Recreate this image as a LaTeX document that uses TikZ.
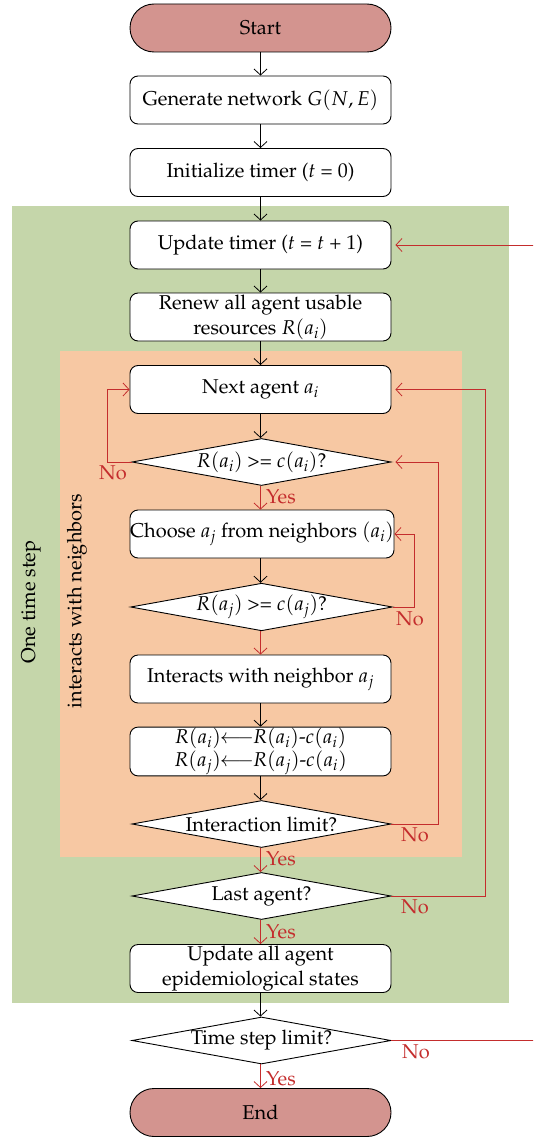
\documentclass[tikz,border=0pt]{standalone}
\usepackage[T1]{fontenc}
\usepackage{mathpazo}
\usetikzlibrary{shapes.geometric,arrows.meta}
\definecolor{termfill}{RGB}{211,148,143}
\definecolor{greenbg}{RGB}{197,214,170}
\definecolor{orangebg}{RGB}{247,200,163}
\definecolor{redline}{RGB}{196,45,45}
\tikzset{
  every node/.style={font=\fontsize{20}{25}\selectfont},
  term/.style={draw, rounded corners=24pt, fill=termfill, minimum width=261pt, minimum height=48pt, line width=0.9pt, inner sep=0pt},
  procbox/.style={draw, rounded corners=8pt, fill=white, minimum width=261pt, minimum height=48pt, line width=0.9pt, align=center, inner sep=1pt},
  decide/.style={draw, diamond, shape aspect=5.5, fill=white, minimum width=259pt, minimum height=47pt, line width=0.9pt, inner sep=0pt},
  blackarrow/.style={-{Straight Barb[length=6pt,width=13pt]}, line width=0.8pt},
  redarrow/.style={-{Straight Barb[length=6pt,width=13pt]}, line width=0.8pt, draw=redline},
  redlabel/.style={text=redline, inner sep=0pt},
  sidelabel/.style={rotate=90, inner sep=0pt}
}
\begin{document}
\begin{tikzpicture}[x=1pt,y=-1pt]
\useasboundingbox (0,0) rectangle (533,1137);
\clip (0,0) rectangle (533,1137);
% backgrounds
\fill[greenbg] (12,206) rectangle (509,1003);
\fill[orangebg] (60,351) rectangle (462,857);
% nodes
\node[term] (start) at (260.5,28) {Start};
\node[procbox] (gen) at (260.5,100) {Generate network $G(N,E)$};
\node[procbox] (init) at (260.5,172.5) {Initialize timer ($t$ = 0)};
\node[procbox] (upd) at (260.5,245) {Update timer ($t$ = $t$ + 1)};
\node[procbox] (renew) at (260.5,317) {Renew all agent usable\\resources $R(a_i)$};
\node[procbox] (next) at (260.5,389.5) {Next agent $a_i$};
\node[decide] (d1) at (261.5,462) {$R(a_i)$ >= $c(a_i)$?};
\node[procbox, minimum width=264pt, inner xsep=0pt] (choose) at (262,534) {Choose $a_j$ from neighbors $(a_i)$};
\node[decide] (d2) at (261.5,607) {$R(a_j)$ >= $c(a_j)$?};
\node[procbox] (inter) at (260.5,679) {Interacts with neighbor $a_j$};
\node[procbox] (rbox) at (260.5,751.5) {$R(a_i)\!\!\longleftarrow\!\! R(a_i)$-$c(a_i)$\\[-2pt]$R(a_j)\!\!\longleftarrow\!\! R(a_j)$-$c(a_i)$};
\node[decide] (d3) at (261.5,824) {Interaction limit?};
\node[decide] (d4) at (261.5,896) {Last agent?};
\node[procbox] (updall) at (260.5,968.5) {Update all agent\\epidemiological states};
\node[decide] (ts) at (261.5,1040.5) {Time step limit?};
\node[term] (end) at (260.5,1112.5) {End};
% side labels
\node[sidelabel] (lab1) at (31,602) {One time step};
\node[sidelabel] (lab2) at (77,601) {interacts with neighbors};
% black arrows
\draw[blackarrow] (start) -- (gen);
\draw[blackarrow] (gen) -- (init);
\draw[blackarrow] (init) -- (upd);
\draw[blackarrow] (upd) -- (renew);
\draw[blackarrow] (renew) -- (next);
\draw[blackarrow] (next.south) -- (next.south |- d1.north);
\draw[blackarrow] (choose.south -| next.south) -- (next.south |- d2.north);
\draw[blackarrow] (inter) -- (rbox);
\draw[blackarrow] (rbox.south) -- (rbox.south |- d3.north);
\draw[blackarrow] (updall.south) -- (updall.south |- ts.north);
% red yes arrows
\draw[redarrow] (d1.south -| next.south) -- (next.south |- choose.north);
\draw[redarrow] (d2.south -| next.south) -- (inter.north);
\draw[redarrow] (d3.south -| next.south) -- (next.south |- d4.north);
\draw[redarrow] (d4.south -| next.south) -- (updall.north);
\draw[redarrow] (ts.south -| next.south) -- (end.north);
% red no loops
\coordinate (c1) at (107,462);
\draw[redarrow] (d1.west) -- (c1) |- (next.west);
\coordinate (c2) at (414,607);
\draw[redarrow] (d2.east) -- (c2) |- (choose.east);
\coordinate (c3) at (438,824);
\draw[redarrow] (d3.east) -- (c3) |- ([xshift=4pt]d1.east);
\coordinate (c4) at (485,896);
\draw[redarrow] (d4.east) -- (c4) |- ([xshift=4pt]next.east);
\coordinate (c5) at (545,1040.5);
\draw[redarrow] (ts.east) -- (c5) |- ([xshift=4pt]upd.east);
% labels
\node[redlabel] (no1) at (113,473) {No};
\node[redlabel, anchor=west] (yes1) at (266,497) {Yes};
\node[redlabel] (no2) at (410,619) {No};
\node[redlabel] (no3) at (415,835) {No};
\node[redlabel, anchor=west] (yes3) at (266,859) {Yes};
\node[redlabel] (no4) at (415,907) {No};
\node[redlabel, anchor=west] (yes4) at (266,932) {Yes};
\node[redlabel] (no5) at (416,1052) {No};
\node[redlabel, anchor=west] (yes5) at (266,1079) {Yes};
\end{tikzpicture}
\end{document}
